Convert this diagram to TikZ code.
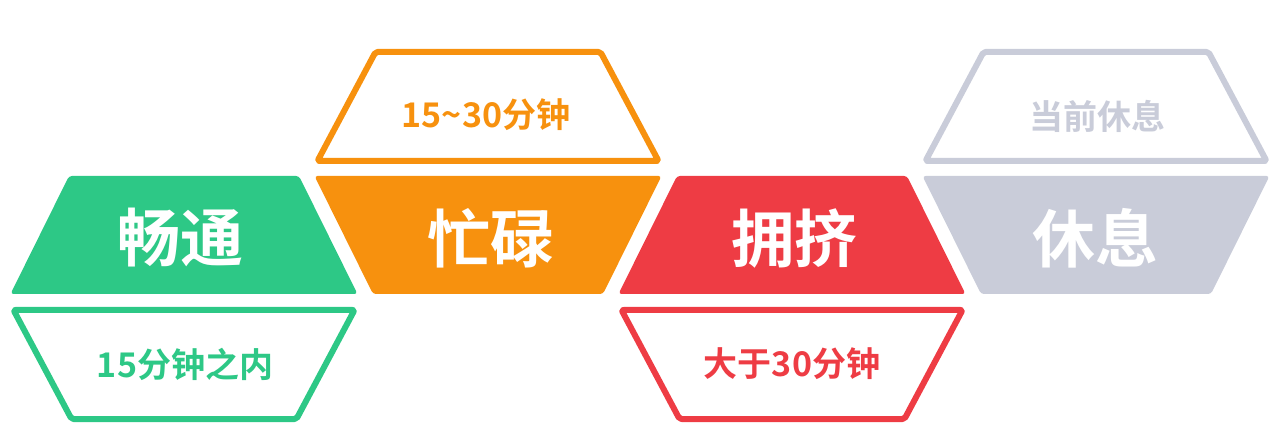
\documentclass[tikz,border=0pt]{standalone}
\usepackage{fontspec}
\newfontfamily\cjkfont[BoldFont={Noto Sans CJK SC Bold}]{Noto Sans CJK SC}
\definecolor{chgreen}{HTML}{2DC886}
\definecolor{chorange}{HTML}{F7910E}
\definecolor{chred}{HTML}{EE3C44}
\definecolor{chgray}{HTML}{C9CCD9}

\begin{document}
\begin{tikzpicture}[
  x=1pt,
  y=-1pt,
  line join=round,
  solidtile/.style={rounded corners=3pt},
  outlinetile/.style={draw=#1,fill=white,line width=6pt,rounded corners=2pt},
  biglabel/.style={text=white,inner sep=0pt,font=\cjkfont\bfseries\fontsize{63}{63}\selectfont},
  smalllabel/.style={inner sep=0pt,font=\cjkfont\bfseries\fontsize{34}{34}\selectfont}
]
  % Match the artwork frame.
  \useasboundingbox (0,0) rectangle (1288,446);

  % Middle row: the four filled state tiles.
  \fill[solidtile,chgreen] (69,176) -- (299,176) -- (357.5,294) -- (10.5,294) -- cycle;
  \fill[solidtile,chorange] (314.5,176) -- (661.5,176) -- (603,294) -- (373,294) -- cycle;
  \fill[solidtile,chred] (677,176) -- (907,176) -- (965.5,294) -- (618.5,294) -- cycle;
  \fill[solidtile,chgray] (922.5,176) -- (1269.5,176) -- (1211,294) -- (981,294) -- cycle;

  % Upper row: outlined time tiles over orange and gray.
  \draw[outlinetile=chorange] (375.5,52) -- (600.5,52) -- (658.5,161) -- (317.5,161) -- cycle;
  \draw[outlinetile=chgray] (983.5,52) -- (1208.5,52) -- (1266.5,161) -- (925.5,161) -- cycle;

  % Lower row: outlined time tiles under green and red.
  \draw[outlinetile=chgreen] (13.5,310) -- (354.5,310) -- (296.5,419) -- (71.5,419) -- cycle;
  \draw[outlinetile=chred] (621.5,310) -- (962.5,310) -- (904.5,419) -- (679.5,419) -- cycle;

  % State names.
  \node[biglabel] (smooth) at (180,238) {畅通};
  \node[biglabel] (busy) at (490,238) {忙碌};
  \node[biglabel] (crowded) at (794,238) {拥挤};
  \node[biglabel] (resting) at (1095,238) {休息};

  % Waiting times.
  \node[smalllabel,text=chorange] (busytime) at (486,115) {15{\char126}30分钟};
  \node[smalllabel,text=chgray] (resttime) at (1097,116) {当前休息};
  \node[smalllabel,text=chgreen] (smoothtime) at (185,364) {15分钟之内};
  \node[smalllabel,text=chred] (crowdedtime) at (792,364) {大于30分钟};
\end{tikzpicture}
\end{document}
